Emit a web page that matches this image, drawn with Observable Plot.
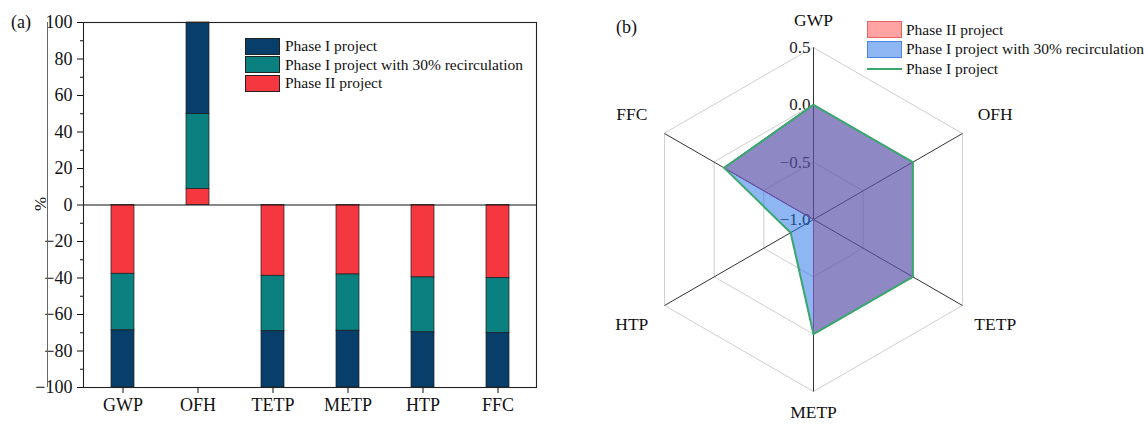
<!DOCTYPE html>
<html>
<head>
<meta charset="utf-8">
<script src="https://cdn.jsdelivr.net/npm/d3@7"></script>
<script src="https://cdn.jsdelivr.net/npm/@observablehq/plot@0.6"></script>
<style>
  body { margin: 0; background: #fff; font-family: "Liberation Serif", "Times New Roman", serif; color: #111; }
  #fig { position: relative; width: 1148px; height: 427px; overflow: hidden; }
  #fig svg { position: absolute; top: 0; }
  .tag { position: absolute; font-size: 18px; line-height: 20px; }
  .legend { position: absolute; font-size: 15.5px; }
  .legend .row { display: flex; align-items: center; white-space: nowrap; }
  .sw { box-sizing: border-box; flex: none; }
  .edge { position: absolute; width: 0; border-left: 1px solid #666; }
</style>
</head>
<body>
<div id="fig"></div>
<script>
// LCA indicators (shared by both panels)
const categories = ["GWP", "OFH", "TETP", "METP", "HTP", "FFC"];

// (a) relative contribution, % (stacked from zero outward)
const seriesNames = ["Phase II project", "Phase I project with 30% recirculation", "Phase I project"];
const phaseII      = [-37.7,  8.8, -38.8, -38.1, -39.7, -40.1];
const phaseIRecirc = [-31.0, 41.0, -30.4, -30.8, -30.1, -30.0];
const phaseI       = [-31.3, 50.2, -30.8, -31.1, -30.2, -29.9];
const yMajorTicks = [-100, -80, -60, -40, -20, 0, 20, 40, 60, 80, 100];
const yMinorTicks = [-90, -70, -50, -30, -10, 10, 30, 50, 70, 90];

// (b) normalised indicator scores on the radar
const radarPhaseII = [0.0, 0.0, 0.0, 0.0, -1.0, -0.1];
const radarRecirc  = [0.0, 0.0, 0.0, 0.0, -0.77, -0.1];
const radarPhaseI  = [0.0, 0.0, 0.0, 0.0, -0.77, -0.1];
const radarTicks = [-1.0, -0.5, 0.0, 0.5];

const barColors = ["#f5373f", "#0a8080", "#073f6a"];
const minus = d => (d < 0 ? "\u2212" + Math.abs(d) : String(d));
const minus1 = d => (d < 0 ? "\u2212" + Math.abs(d).toFixed(1) : d.toFixed(1));
const serif = "Liberation Serif, Times New Roman, serif";

const fig = document.getElementById("fig");

// ---------- (a) stacked bars ----------
const seriesValues = [phaseII, phaseIRecirc, phaseI];
const barRows = [];
categories.forEach((c, i) => {
  seriesNames.forEach((s, j) => barRows.push({category: c, series: s, value: seriesValues[j][i]}));
});

const left = Plot.plot({
  width: 560,
  height: 427,
  marginLeft: 83,
  marginRight: 24,
  marginTop: 22,
  marginBottom: 40,
  style: {fontFamily: serif, background: "transparent", color: "#111", overflow: "visible"},
  x: {domain: categories, paddingInner: 0.7, paddingOuter: 0.35, label: null},
  y: {domain: [-100, 100], label: null},
  color: {domain: seriesNames, range: barColors},
  marks: [
    Plot.barY(barRows, {
      x: "category", y: "value", fill: "series", order: seriesNames,
      stroke: "#1c1c1c", strokeWidth: 0.7
    }),
    Plot.ruleY([0], {stroke: "#111", strokeWidth: 1.1}),
    Plot.frame({stroke: "#222", strokeWidth: 1.1}),
    Plot.axisX({tickSize: 6, tickPadding: 5, fontSize: 18, label: null}),
    Plot.axisY({ticks: yMajorTicks, tickSize: 6, tickPadding: 5, tickFormat: minus, fontSize: 18, label: null}),
    Plot.axisY({ticks: yMinorTicks, tickSize: 3, tickFormat: () => "", label: null}),
    Plot.text(["%"], {frameAnchor: "left", dx: -43, dy: 6, rotate: -90, fontSize: 17})
  ]
});
left.style.left = "0px";
fig.appendChild(left);

// ---------- (b) radar ----------
const W = 548, H = 427;
const cx = 213, cy = 219;          // centre of the radar inside its svg
const k = 172 / 1.5;               // pixels per unit of score
const rMin = radarTicks[0], rMax = radarTicks[radarTicks.length - 1];
const ang = i => (i * Math.PI) / 3;
const px = (v, i) => (v - rMin) * Math.sin(ang(i));
const py = (v, i) => (v - rMin) * Math.cos(ang(i));

const idx = categories.map((_, i) => i);
const ringRows = [];
radarTicks.filter(t => t > rMin).forEach(t => idx.forEach(i => ringRows.push({ring: t, i})));

// label placement: further out on the slanted spokes, a little closer at the bottom
const labelX = (d, i) => 1.83 * Math.sin(ang(i));
const labelY = (d, i) => {
  const c = Math.cos(ang(i));
  const r = Math.abs(c) > 0.9 ? (c > 0 ? 1.74 : 1.68) : 1.83;
  return r * c;
};

const right = Plot.plot({
  width: W,
  height: H,
  margin: 0,
  style: {fontFamily: serif, background: "transparent", color: "#111", overflow: "visible"},
  x: {domain: [-cx / k, (W - cx) / k], range: [0, W], axis: null},
  y: {domain: [-(H - cy) / k, cy / k], range: [H, 0], axis: null},
  marks: [
    // hexagonal grid rings
    Plot.line(ringRows, {
      x: d => px(d.ring, d.i), y: d => py(d.ring, d.i), z: "ring",
      curve: "linear-closed", stroke: "#cfcfcf", strokeWidth: 1
    }),
    // spokes
    Plot.link(idx, {
      x1: () => 0, y1: () => 0,
      x2: i => px(rMax, i), y2: i => py(rMax, i),
      stroke: "#333", strokeWidth: 1
    }),
    // radial tick labels along the GWP spoke
    Plot.text(radarTicks, {
      x: () => 0, y: d => d - rMin, text: minus1,
      textAnchor: "end", dx: -3, fontSize: 17, fill: "#222"
    }),
    // Phase II project
    Plot.line(idx, {
      x: i => px(radarPhaseII[i], i), y: i => py(radarPhaseII[i], i),
      curve: "linear-closed", fill: "rgb(255,0,0)", fillOpacity: 0.36,
      stroke: "#c8306a", strokeWidth: 1
    }),
    // Phase I project with 30% recirculation
    Plot.line(idx, {
      x: i => px(radarRecirc[i], i), y: i => py(radarRecirc[i], i),
      curve: "linear-closed", fill: "rgb(30,110,230)", fillOpacity: 0.5,
      stroke: "#3f7fe0", strokeWidth: 1
    }),
    // Phase I project
    Plot.line(idx, {
      x: i => px(radarPhaseI[i], i), y: i => py(radarPhaseI[i], i),
      curve: "linear-closed", stroke: "#3aa86e", strokeWidth: 2
    }),
    // indicator names
    Plot.text(categories, {
      x: labelX, y: labelY,
      text: d => d, fontSize: 17.5, fill: "#111"
    })
  ]
});
right.style.left = "600px";
fig.appendChild(right);

// ---------- panel tags, legends ----------
function addTag(text, x, y) {
  const t = document.createElement("div");
  t.className = "tag";
  t.textContent = text;
  t.style.left = x + "px";
  t.style.top = y + "px";
  fig.appendChild(t);
}
addTag("(a)", 11, 12);
addTag("(b)", 616, 17);

const edge = document.createElement("div");
edge.className = "edge";
edge.style.left = "47px";
edge.style.top = "22px";
edge.style.height = "365px";
fig.appendChild(edge);

function addLegend(x, y, rowH, items) {
  const box = document.createElement("div");
  box.className = "legend";
  box.style.left = x + "px";
  box.style.top = y + "px";
  items.forEach(it => {
    const row = document.createElement("div");
    row.className = "row";
    row.style.height = rowH + "px";
    const sw = document.createElement("div");
    sw.className = "sw";
    Object.assign(sw.style, it.style);
    row.appendChild(sw);
    const lab = document.createElement("span");
    lab.textContent = it.label;
    lab.style.marginLeft = it.gap + "px";
    row.appendChild(lab);
    box.appendChild(row);
  });
  fig.appendChild(box);
}

// legend for (a): top-down order of the stack
addLegend(245, 37, 18.6, [
  {label: seriesNames[2], gap: 5, style: {width: "35px", height: "17px", background: barColors[2], border: "1px solid #222"}},
  {label: seriesNames[1], gap: 5, style: {width: "35px", height: "17px", background: barColors[1], border: "1px solid #222"}},
  {label: seriesNames[0], gap: 5, style: {width: "35px", height: "17px", background: barColors[0], border: "1px solid #222"}}
]);

// legend for (b)
addLegend(867, 20, 19.5, [
  {label: seriesNames[0], gap: 4, style: {width: "35px", height: "17px", background: "rgba(255,0,0,0.36)", border: "1px solid rgba(225,70,70,0.7)"}},
  {label: seriesNames[1], gap: 4, style: {width: "35px", height: "17px", background: "rgba(30,110,230,0.5)", border: "1px solid #4a86e8"}},
  {label: seriesNames[2], gap: 4, style: {width: "35px", height: "2px", background: "#3aa86e"}}
]);
</script>
</body>
</html>
